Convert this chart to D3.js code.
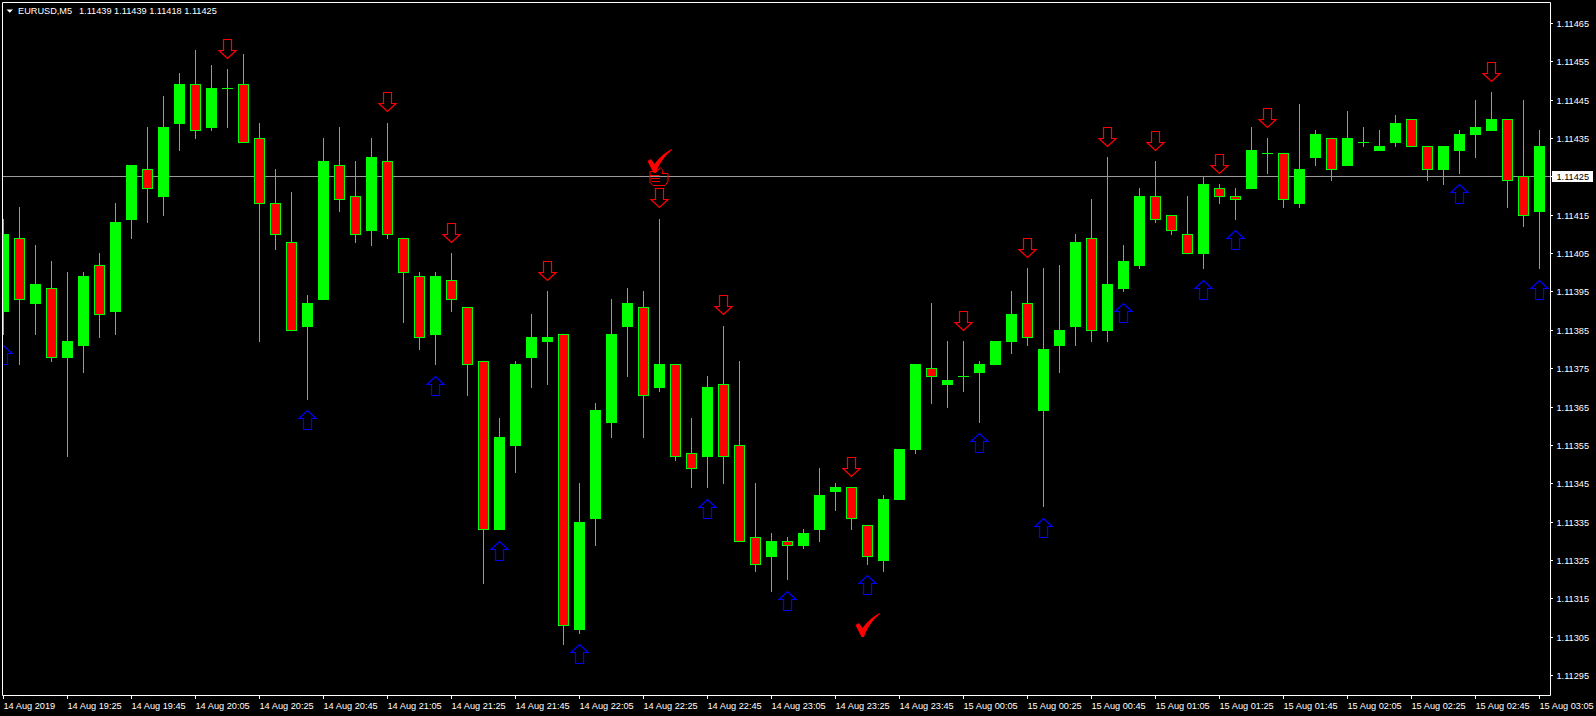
<!DOCTYPE html>
<html><head><meta charset="utf-8">
<script src="https://cdnjs.cloudflare.com/ajax/libs/d3/7.8.5/d3.min.js"></script>
<style>
html,body{margin:0;padding:0;background:#000;overflow:hidden;}
svg{display:block;}
text{font-family:"Liberation Sans",Arial,sans-serif;font-size:9.2px;fill:#fff;}
</style></head><body>
<svg id="chart" width="1596" height="716"></svg>
<script>
// ---------- data (EURUSD M5, 14 Aug 2019 19:05 .. 15 Aug 03:05) ----------
const opens = [1.11390,1.11409,1.11392,1.11396,1.11378,1.11381,1.11402,1.11390,1.11414,1.11427,
1.11420,1.11439,1.11449,1.11438,1.11448,1.11449,1.11435,1.11418,1.11408,1.11386,
1.11393,1.11428,1.11420,1.11411,1.11429,1.11409,1.11399,1.11384,1.11398,1.11391,
1.11377,1.11333,1.11355,1.11378,1.11382,1.11384,1.11307,1.11336,1.11361,1.11386,
1.11391,1.11370,1.11376,1.11353,1.11352,1.11371,1.11355,1.11331,1.11326,1.11330,
1.11329,1.11333,1.11343,1.11344,1.11334,1.11325,1.11341,1.11354,1.11375,1.11371,
1.11373,1.11374,1.11376,1.11382,1.11392,1.11364,1.11381,1.11386,1.11409,1.11385,
1.11396,1.11402,1.11420,1.11415,1.11410,1.11405,1.11422,1.11420,1.11422,1.11431,
1.11431,1.11418,1.11430,1.11435,1.11428,1.11434,1.11432,1.11434,1.11440,1.11433,
1.11427,1.11432,1.11436,1.11437,1.11440,1.11425,1.11416];
const highs = [1.11414,1.11417,1.11407,1.11403,1.11400,1.11400,1.11405,1.11418,1.11428,1.11438,
1.11446,1.11452,1.11458,1.11454,1.11453,1.11457,1.11439,1.11427,1.11421,1.11394,
1.11435,1.11438,1.11429,1.11435,1.11439,1.11409,1.11400,1.11400,1.11405,1.11391,
1.11377,1.11362,1.11377,1.11389,1.11395,1.11384,1.11345,1.11366,1.11393,1.11396,
1.11395,1.11414,1.11376,1.11362,1.11373,1.11386,1.11377,1.11345,1.11332,1.11331,
1.11333,1.11349,1.11345,1.11344,1.11334,1.11342,1.11354,1.11376,1.11392,1.11382,
1.11382,1.11377,1.11382,1.11395,1.11401,1.11401,1.11402,1.11410,1.11419,1.11430,
1.11407,1.11422,1.11429,1.11415,1.11420,1.11425,1.11423,1.11422,1.11438,1.11435,
1.11431,1.11444,1.11437,1.11435,1.11442,1.11438,1.11437,1.11441,1.11440,1.11433,
1.11433,1.11437,1.11445,1.11447,1.11440,1.11445,1.11437];
const lows = [1.11384,1.11376,1.11384,1.11377,1.11352,1.11374,1.11383,1.11384,1.11409,1.11413,
1.11415,1.11432,1.11435,1.11437,1.11438,1.11434,1.11382,1.11406,1.11385,1.11367,
1.11393,1.11416,1.11408,1.11407,1.11409,1.11387,1.11380,1.11376,1.11390,1.11368,
1.11319,1.11333,1.11348,1.11370,1.11371,1.11303,1.11306,1.11329,1.11357,1.11373,
1.11357,1.11369,1.11351,1.11344,1.11344,1.11345,1.11330,1.11322,1.11317,1.11320,
1.11328,1.11330,1.11338,1.11333,1.11324,1.11322,1.11341,1.11353,1.11366,1.11365,
1.11369,1.11361,1.11376,1.11379,1.11381,1.11339,1.11374,1.11381,1.11382,1.11382,
1.11395,1.11401,1.11413,1.11410,1.11405,1.11401,1.11418,1.11414,1.11422,1.11426,
1.11417,1.11417,1.11428,1.11424,1.11428,1.11433,1.11432,1.11433,1.11433,1.11424,
1.11423,1.11426,1.11430,1.11437,1.11417,1.11412,1.11401];
const closes = [1.11410,1.11393,1.11397,1.11378,1.11382,1.11399,1.11389,1.11413,1.11428,1.11422,
1.11438,1.11449,1.11437,1.11448,1.11448,1.11434,1.11418,1.11410,1.11385,1.11392,
1.11429,1.11419,1.11410,1.11430,1.11410,1.11400,1.11383,1.11399,1.11393,1.11376,
1.11333,1.11357,1.11376,1.11383,1.11383,1.11308,1.11335,1.11364,1.11384,1.11392,
1.11368,1.11376,1.11352,1.11349,1.11370,1.11352,1.11330,1.11324,1.11330,1.11329,
1.11332,1.11342,1.11344,1.11336,1.11326,1.11341,1.11354,1.11376,1.11373,1.11372,
1.11373,1.11376,1.11382,1.11389,1.11383,1.11380,1.11385,1.11408,1.11385,1.11397,
1.11403,1.11420,1.11414,1.11411,1.11405,1.11423,1.11420,1.11419,1.11432,1.11431,
1.11419,1.11427,1.11436,1.11427,1.11435,1.11434,1.11433,1.11439,1.11433,1.11427,
1.11433,1.11436,1.11438,1.11440,1.11424,1.11415,1.11433];
const timeLabels = ["14 Aug 2019","14 Aug 19:25","14 Aug 19:45","14 Aug 20:05","14 Aug 20:25",
"14 Aug 20:45","14 Aug 21:05","14 Aug 21:25","14 Aug 21:45","14 Aug 22:05","14 Aug 22:25",
"14 Aug 22:45","14 Aug 23:05","14 Aug 23:25","14 Aug 23:45","15 Aug 00:05","15 Aug 00:25",
"15 Aug 00:45","15 Aug 01:05","15 Aug 01:25","15 Aug 01:45","15 Aug 02:05","15 Aug 02:25",
"15 Aug 02:45","15 Aug 03:05"];
const priceTicks = [1.11295,1.11305,1.11315,1.11325,1.11335,1.11345,1.11355,1.11365,1.11375,
1.11385,1.11395,1.11405,1.11415,1.11425,1.11435,1.11445,1.11455,1.11465];
const sellArrowBars = [14,24,28,34,41,45,53,60,64,69,72,76,79,93];
const buyArrowBars = [0,19,27,31,36,44,49,54,61,65,70,75,77,91,96];
const checkBars = [41,54];
const checkPrices = [1.11429,1.11308];
const handBars = [41];
const handPrices = [1.11425];
const symbolName = "EURUSD,M5";
const headerQuote = [1.11439,1.11439,1.11418,1.11425];
const currentPrice = 1.11425;

// ---------- layout ----------
const W = 1596, H = 716;
const plotL = 2, plotT = 2, plotR = 1550, plotB = 695;
const svg = d3.select("#chart");
svg.append("rect").attr("width", W).attr("height", H).attr("fill", "#000");

const x = d3.scaleLinear().domain([0, 96]).range([3, 1539]);
const y = d3.scaleLinear().domain([1.11295, 1.11465]).rangeRound([675, 23]);
const fmt = d3.format(".5f");
const pt = 0.00001;

svg.append("clipPath").attr("id", "plotclip").append("rect")
  .attr("x", plotL + 1).attr("y", plotT + 1).attr("width", plotR - plotL - 1).attr("height", plotB - plotT - 1);
const plot = svg.append("g").attr("clip-path", "url(#plotclip)");

// current price line
plot.append("rect").attr("x", plotL).attr("y", y(currentPrice)).attr("width", plotR - plotL).attr("height", 1)
  .attr("fill", "#9a9a9a");

const bars = d3.range(opens.length).map(i => ({i, o: opens[i], h: highs[i], l: lows[i], c: closes[i]}));
const LIME = "#00ff00", RED = "#ff0000";

// wicks
plot.append("g").selectAll("rect").data(bars).join("rect")
  .attr("x", d => x(d.i)).attr("width", 1)
  .attr("y", d => y(d.h)).attr("height", d => y(d.l) - y(d.h) + 1)
  .attr("fill", LIME);

// bodies
const g = plot.append("g");
bars.forEach(d => {
  const top = y(Math.max(d.o, d.c)), bot = y(Math.min(d.o, d.c));
  const cx = x(d.i);
  if (Math.abs(d.o - d.c) < pt / 2) {
    g.append("rect").attr("x", cx - 5).attr("y", top).attr("width", 11).attr("height", 1).attr("fill", LIME);
  } else if (d.c > d.o) {
    g.append("rect").attr("x", cx - 5).attr("y", top).attr("width", 11).attr("height", bot - top + 1).attr("fill", LIME);
  } else {
    g.append("rect").attr("x", cx - 4.5).attr("y", top + 0.5).attr("width", 10).attr("height", bot - top)
      .attr("fill", RED).attr("stroke", LIME).attr("stroke-width", 1);
  }
});

// arrows
function downArrow(cx, ty) {
  return `M${cx-4},${ty-19}H${cx+4}V${ty-8}H${cx+8.5}L${cx},${ty}L${cx-8.5},${ty-8}H${cx-4}Z`;
}
function upArrow(cx, ty) {
  return `M${cx-4},${ty+19}H${cx+4}V${ty+8}H${cx+8.5}L${cx},${ty}L${cx-8.5},${ty+8}H${cx-4}Z`;
}
plot.append("g").selectAll("path").data(sellArrowBars).join("path")
  .attr("d", i => downArrow(x(i) + 0.5, y(highs[i] + 3 * pt) + 0.5))
  .attr("fill", "none").attr("stroke", RED).attr("stroke-width", 1.2);
plot.append("g").selectAll("path").data(buyArrowBars).join("path")
  .attr("d", i => upArrow(x(i) + 0.5, y(lows[i] - 3 * pt) + 0.5))
  .attr("fill", "none").attr("stroke", "#0000ff").attr("stroke-width", 1.2);

// hand icon (outline)
handBars.forEach((b, j) => {
  const cx = x(b) + 0.5, cy = y(handPrices[j]);
  const hg = plot.append("g").attr("transform", `translate(${cx - 10},${cy - 9})`)
    .attr("fill", "none").attr("stroke", RED).attr("stroke-width", 1);
  hg.append("path").attr("d", "M0.5,4.5 H7.5 L10.5,0.5 L13.5,3.5 L12.5,6.5 H18.5 V14.5 L15.5,18.5 H3.5 L0.5,15.5 Z");
  hg.append("path").attr("d", "M0.5,8.5H9.5 M1.5,11.5H10.5 M2.5,14.5H10.5");
});

// check marks
checkBars.forEach((b, j) => {
  const cx = x(b) + 0.5, cy = y(checkPrices[j]);
  plot.append("path")
    .attr("transform", `translate(${cx - 12},${cy - 12})`)
    .attr("d", "M0,12 L3.5,10 L7,15 C12,8 18,3 24,0 L24.5,1 C17,7 11.5,15 8.5,24 L6,24 Z")
    .attr("fill", RED);
});

// frame
svg.append("path")
  .attr("d", `M${plotL+0.5},${plotB+0.5}V${plotT+0.5}H${plotR+0.5}V${plotB+0.5}H${plotL+0.5}`)
  .attr("fill", "none").attr("stroke", "#fff").attr("stroke-width", 1);

// right price axis
const yAxis = d3.axisRight(y).tickValues(priceTicks).tickFormat(fmt).tickSize(3).tickPadding(3).tickSizeOuter(0);
const ya = svg.append("g").attr("transform", `translate(${plotR},0)`).call(yAxis);
ya.select(".domain").remove();
ya.selectAll("line").attr("stroke", "#fff");
ya.selectAll("text").attr("fill", "#fff").attr("font-family", null).attr("font-size", null)
  .attr("x", 6.5).attr("dy", "0.36em");

// bottom time axis
const tickBars = timeLabels.map((_, j) => j * 4);
const xAxis = d3.axisBottom(x).tickValues(tickBars).tickFormat((d, j) => timeLabels[j]).tickSize(4).tickSizeOuter(0);
const xa = svg.append("g").attr("transform", `translate(0,${plotB})`).call(xAxis);
xa.select(".domain").remove();
xa.selectAll("line").attr("stroke", "#fff");
xa.selectAll("text").attr("fill", "#fff").attr("font-family", null).attr("font-size", null)
  .attr("text-anchor", "start").attr("x", 0).attr("y", 14).attr("dy", null);

// current price label
const cy0 = y(currentPrice);
svg.append("rect").attr("x", 1552).attr("y", cy0 - 5).attr("width", 41).attr("height", 11).attr("fill", "#fff");
svg.append("text").attr("x", 1556.5).attr("y", cy0 + 0.5).attr("dy", "0.36em").style("fill", "#000").text(fmt(currentPrice));

// header
svg.append("path").attr("d", "M6.5,9.5 L13,9.5 L9.75,12.75 Z").attr("fill", "#fff");
svg.append("text").attr("x", 18).attr("y", 14).text(symbolName);
svg.append("text").attr("x", 79).attr("y", 14).text(headerQuote.map(fmt).join(" "));
</script>
</body></html>
